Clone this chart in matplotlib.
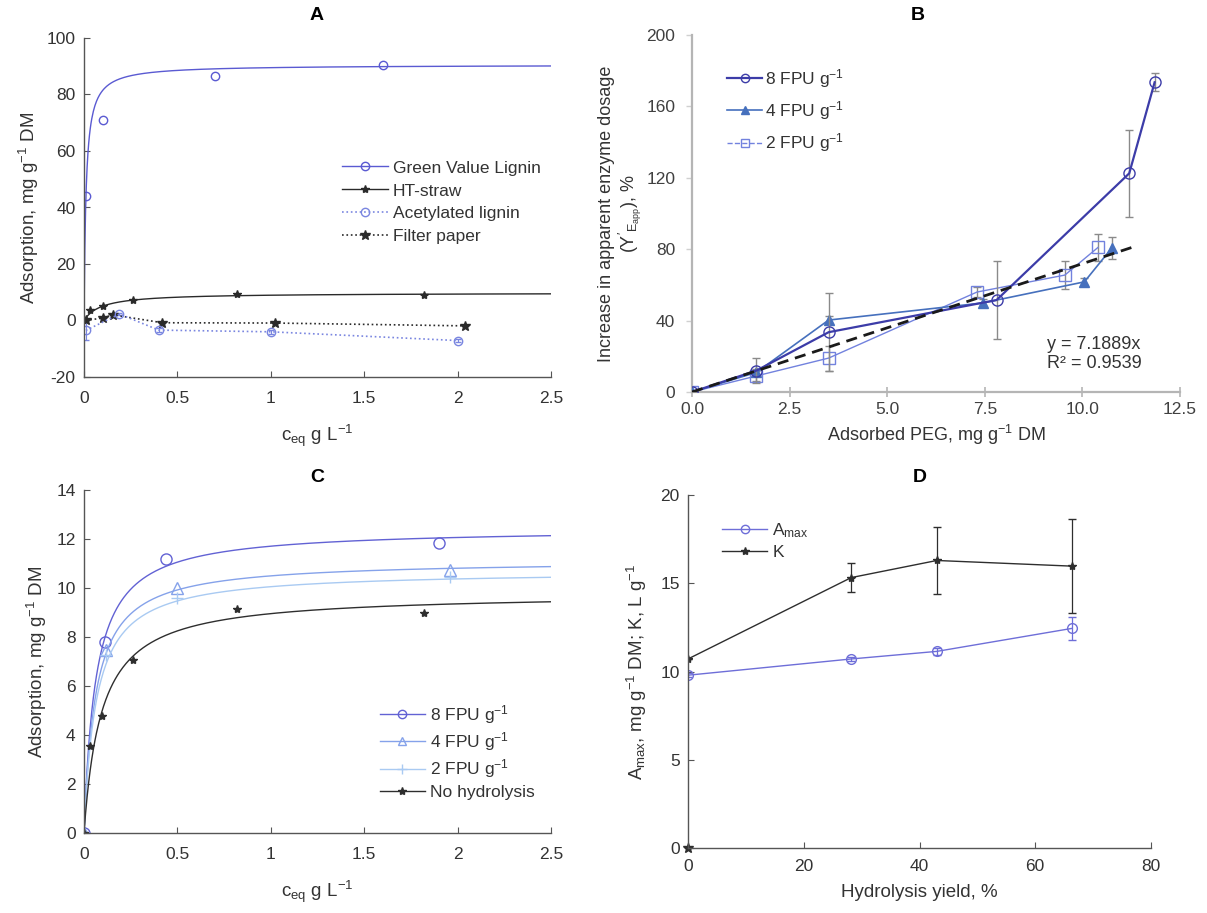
import numpy as np
import matplotlib
matplotlib.use("Agg")
import matplotlib.pyplot as plt

plt.rcParams['font.family'] = ['Liberation Sans', 'DejaVu Sans']
plt.rcParams['mathtext.fontset'] = 'custom'
plt.rcParams['mathtext.rm'] = 'Liberation Sans'
plt.rcParams['mathtext.it'] = 'Liberation Sans:italic'
plt.rcParams['mathtext.default'] = 'regular'
plt.rcParams['axes.unicode_minus'] = False

# ---- Panel A: adsorption isotherms on different substrates
gvl_x = [0.01, 0.1, 0.7, 1.6]
gvl_y = [44, 71, 86.5, 90.5]
gvl_amax, gvl_k = 90.5, 90.0
ht_x = [0, 0.03, 0.1, 0.26, 0.82, 1.82]
ht_y = [0, 3.6, 5.0, 7.2, 9.3, 9.2]
acet_x = [0.01, 0.19, 0.4, 1.0, 2.0]
acet_y = [-3.5, 2.3, -3.4, -4.0, -7.1]
acet_err = [3.5, 0.5, 0.6, 0.8, 0.5]
fp_x = [0.01, 0.1, 0.155, 0.42, 1.02, 2.04]
fp_y = [0, 0.9, 2.0, -0.8, -0.9, -1.9]

# ---- Panel B: apparent enzyme dosage vs adsorbed PEG
b8_x = [0, 1.65, 3.5, 7.8, 11.2, 11.85]
b8_y = [0, 12, 33.5, 51.5, 122.5, 173.5]
b8_err = [0, 7, 22, 22, 24.5, 5]
b4_x = [0, 1.65, 3.5, 7.45, 10.05, 10.75]
b4_y = [0, 11, 40.3, 49.9, 61.7, 80.6]
b4_err = [0, 2, 2, 2, 2, 6]
b2_x = [0, 1.65, 3.5, 7.3, 9.55, 10.4]
b2_y = [0, 9, 19, 56, 65.5, 81]
b2_err = [0, 3, 7, 3, 8, 7.5]
trend_slope = 7.1889
trend_x = [0, 11.35]

# ---- Panel C: isotherms on hydrolysed straw
c8_x = [0, 0.11, 0.44, 1.90]
c8_y = [0, 7.8, 11.18, 11.85]
c4_x = [0, 0.12, 0.50, 1.96]
c4_y = [0, 7.45, 10.02, 10.75]
c2_x = [0, 0.12, 0.50, 1.96]
c2_y = [0, 7.25, 9.6, 10.45]
cn_x = [0, 0.03, 0.096, 0.26, 0.82, 1.82]
cn_y = [0, 3.55, 4.78, 7.05, 9.13, 9.0]

# ---- Panel D: Langmuir parameters vs hydrolysis yield (0, 2, 4, 8 FPU)
hyd_yield = [0, 28.2, 43.0, 66.3]
amax = [9.79, 10.71, 11.14, 12.44]
amax_err = [0.1, 0.1, 0.2, 0.65]
kval = [10.71, 15.32, 16.29, 15.97]
k_err = [0, 0.8, 1.9, 2.65]

W, H = 1207, 913
fig = plt.figure(figsize=(W / 100, H / 100), dpi=100)


def rect(l, t, r, b):
    return [l / W, 1 - b / H, (r - l) / W, (b - t) / H]


def langmuir(c, a, k):
    return a * k * c / (1 + k * c)


def matlab_style(ax, xpad=10, color='#555555'):
    for s in ['top', 'right']:
        ax.spines[s].set_visible(False)
    for s in ['left', 'bottom']:
        ax.spines[s].set_color(color)
        ax.spines[s].set_linewidth(1.0)
    ax.tick_params(direction='in', length=4, width=0.8, color=color,
                   labelsize=12.5, labelcolor='#333333')
    ax.tick_params(axis='y', pad=6)
    ax.tick_params(axis='x', pad=xpad)


cgrid = np.linspace(0, 2.5, 600)
lab_fs = 13.5
txt = '#333333'

# ================= A
axA = fig.add_axes(rect(84, 38, 551, 377))
matlab_style(axA)
blueA = '#5a5ad2'
axA.plot(cgrid, langmuir(cgrid, gvl_amax, gvl_k), color=blueA, lw=1.0)
axA.plot(gvl_x, gvl_y, 'o', mfc='none', mec=blueA, ms=6, mew=1.0)
axA.plot(cgrid, langmuir(cgrid, 9.79, 10.71), color='#2a2a2a', lw=1.0)
axA.plot(ht_x, ht_y, '*', color='#2a2a2a', ms=6)
axA.errorbar(acet_x, acet_y, yerr=acet_err, color='#7a86e0', ls=':', lw=1.2,
             marker='o', mfc='none', ms=6, capsize=2, elinewidth=0.8)
axA.plot(fp_x, fp_y, ls=':', color='#2a2a2a', lw=1.2, marker='*', ms=7)
axA.set_xlim(0, 2.5)
axA.set_ylim(-20, 100)
axA.set_xticks([0, 0.5, 1, 1.5, 2, 2.5])
axA.set_xticklabels(['0', '0.5', '1', '1.5', '2', '2.5'])
axA.set_yticks(range(-20, 101, 20))
axA.set_xlabel(r'c$_{eq}$ g L$^{-1}$', fontsize=lab_fs, color=txt, labelpad=12)
axA.set_ylabel(r'Adsorption, mg g$^{-1}$ DM', fontsize=lab_fs, color=txt, labelpad=4)
hA = [
    axA.plot([], [], color=blueA, lw=1.0, marker='o', mfc='none', ms=6)[0],
    axA.plot([], [], color='#2a2a2a', lw=1.0, marker='*', ms=6)[0],
    axA.plot([], [], color='#7a86e0', ls=':', lw=1.2, marker='o', mfc='none', ms=6)[0],
    axA.plot([], [], color='#2a2a2a', ls=':', lw=1.2, marker='*', ms=7)[0],
]
axA.legend(hA, ['Green Value Lignin', 'HT-straw', 'Acetylated lignin', 'Filter paper'],
           loc='upper left', bbox_to_anchor=(0.52, 0.685), frameon=False,
           fontsize=12.5, handlelength=2.6, handletextpad=0.3, labelspacing=0.45,
           labelcolor=txt)
fig.text(317 / W, 1 - 16 / H, 'A', ha='center', va='center', fontsize=14, fontweight='bold')

# ================= B
axB = fig.add_axes(rect(692, 35, 1180, 392))
for s in ['top', 'right']:
    axB.spines[s].set_visible(False)
for s in ['left', 'bottom']:
    axB.spines[s].set_color('#b5b5b5')
    axB.spines[s].set_linewidth(1.6)
axB.tick_params(axis='x', direction='inout', length=7, color='#b5b5b5', width=1.2,
                labelsize=12.5, labelcolor='#404040', pad=4)
axB.tick_params(axis='y', direction='out', length=4, color='#d0d0d0', width=1.0,
                labelsize=12.5, labelcolor='#404040', pad=8)
c8, c4, c2 = '#3c3ca8', '#4670bd', '#7282de'
axB.errorbar(b2_x, b2_y, yerr=b2_err, color=c2, lw=1.0, marker='s', mfc='none',
             ms=8, mew=1.0, ecolor='#8a8a8a', elinewidth=1.0, capsize=3, zorder=2)
axB.errorbar(b4_x, b4_y, yerr=b4_err, color=c4, lw=1.2, marker='^', ms=7,
             ecolor='#8a8a8a', elinewidth=1.0, capsize=3, zorder=3)
axB.errorbar(b8_x, b8_y, yerr=b8_err, color=c8, lw=1.6, marker='o', mfc='none',
             ms=8, mew=1.0, ecolor='#8a8a8a', elinewidth=1.0, capsize=3, zorder=4)
tx = np.array(trend_x)
axB.plot(tx, trend_slope * tx, ls=(0, (4, 2.5)), color='#1a1a1a', lw=2.0, zorder=5)
axB.set_xlim(0, 12.5)
axB.set_ylim(0, 200)
axB.set_xticks(np.arange(0, 12.6, 2.5))
axB.set_xticklabels(['0.0', '2.5', '5.0', '7.5', '10.0', '12.5'])
axB.set_yticks(range(0, 201, 40))
axB.set_xlabel(r'Adsorbed PEG, mg g$^{-1}$ DM', fontsize=13, color=txt, labelpad=4)
axB.set_ylabel('Increase in apparent enzyme dosage\n' + r"$(Y'_{E_{app}})$, %",
               fontsize=13, color=txt, labelpad=2, linespacing=1.1)
axB.text(0.727, 0.106, 'y = 7.1889x\nR\u00b2 = 0.9539', transform=axB.transAxes,
         fontsize=13, color=txt, ha='left', va='center', linespacing=1.15)
hB = [
    axB.plot([], [], color=c8, lw=1.6, marker='o', mfc='none', ms=6)[0],
    axB.plot([], [], color=c4, lw=1.2, marker='^', ms=6)[0],
    axB.plot([], [], color=c2, lw=1.0, ls='--', marker='s', mfc='none', ms=6)[0],
]
axB.legend(hB, [r'8 FPU g$^{-1}$', r'4 FPU g$^{-1}$', r'2 FPU g$^{-1}$'],
           loc='upper left', bbox_to_anchor=(0.04, 0.955), frameon=False,
           fontsize=12.5, handlelength=2.0, handletextpad=0.2, labelspacing=0.55,
           labelcolor=txt)
fig.text(918 / W, 1 - 16 / H, 'B', ha='center', va='center', fontsize=14, fontweight='bold')

# ================= C
axC = fig.add_axes(rect(84, 490, 551, 833))
matlab_style(axC)
cc8, cc4, cc2, ccn = '#6262d4', '#85a2ea', '#a9caf2', '#2e2e2e'
axC.plot(cgrid, langmuir(cgrid, amax[3], kval[3]), color=cc8, lw=1.0)
axC.plot(c8_x, c8_y, 'o', mfc='none', mec=cc8, ms=8, mew=1.0)
axC.plot(cgrid, langmuir(cgrid, amax[2], kval[2]), color=cc4, lw=1.0)
axC.plot(c4_x, c4_y, '^', mfc='none', mec=cc4, ms=8, mew=1.0)
axC.plot(cgrid, langmuir(cgrid, amax[1], kval[1]), color=cc2, lw=1.0)
axC.plot(c2_x, c2_y, '+', color=cc2, ms=9, mew=1.0)
axC.plot(cgrid, langmuir(cgrid, amax[0], kval[0]), color=ccn, lw=1.0)
axC.plot(cn_x, cn_y, '*', color=ccn, ms=6)
axC.set_xlim(0, 2.5)
axC.set_ylim(0, 14)
axC.set_xticks([0, 0.5, 1, 1.5, 2, 2.5])
axC.set_xticklabels(['0', '0.5', '1', '1.5', '2', '2.5'])
axC.set_yticks(range(0, 15, 2))
axC.set_xlabel(r'c$_{eq}$ g L$^{-1}$', fontsize=lab_fs, color=txt, labelpad=12)
axC.set_ylabel(r'Adsorption, mg g$^{-1}$ DM', fontsize=lab_fs, color=txt, labelpad=5)
hC = [
    axC.plot([], [], color=cc8, lw=1.0, marker='o', mfc='none', ms=6)[0],
    axC.plot([], [], color=cc4, lw=1.0, marker='^', mfc='none', ms=6)[0],
    axC.plot([], [], color=cc2, lw=1.0, marker='+', ms=7)[0],
    axC.plot([], [], color=ccn, lw=1.0, marker='*', ms=6)[0],
]
axC.legend(hC, [r'8 FPU g$^{-1}$', r'4 FPU g$^{-1}$', r'2 FPU g$^{-1}$', 'No hydrolysis'],
           loc='upper left', bbox_to_anchor=(0.6, 0.425), frameon=False,
           fontsize=12.5, handlelength=2.6, handletextpad=0.3, labelspacing=0.25,
           labelcolor=txt)
fig.text(317 / W, 1 - 477 / H, 'C', ha='center', va='center', fontsize=14, fontweight='bold')

# ================= D
axD = fig.add_axes(rect(688, 495, 1151, 848))
matlab_style(axD, xpad=8)
cam, ck = '#6e6ed8', '#2e2e2e'
axD.errorbar(hyd_yield, kval, yerr=k_err, color=ck, lw=1.0, marker='*', ms=6,
             capsize=3, elinewidth=0.9)
axD.errorbar(hyd_yield, amax, yerr=amax_err, color=cam, lw=1.0, marker='o', mfc='none',
             ms=7, capsize=3, elinewidth=0.9)
axD.plot([0], [0], '*', color=ck, ms=7, clip_on=False)
axD.set_xlim(0, 80)
axD.set_ylim(0, 20)
axD.set_xticks(range(0, 81, 20))
axD.set_yticks(range(0, 21, 5))
axD.set_xlabel('Hydrolysis yield, %', fontsize=lab_fs, color=txt, labelpad=7)
axD.set_ylabel(r'A$_{max}$, mg g$^{-1}$ DM; K, L g$^{-1}$', fontsize=lab_fs,
               color=txt, labelpad=8)
hD = [
    axD.plot([], [], color=cam, lw=1.0, marker='o', mfc='none', ms=6)[0],
    axD.plot([], [], color=ck, lw=1.0, marker='*', ms=6)[0],
]
axD.legend(hD, [r'A$_{max}$', 'K'], loc='upper left', bbox_to_anchor=(0.04, 0.97),
           frameon=False, fontsize=12.5, handlelength=2.6, handletextpad=0.3,
           labelspacing=0.3, labelcolor=txt)
fig.text(920 / W, 1 - 477 / H, 'D', ha='center', va='center', fontsize=14, fontweight='bold')

fig.savefig('out.png', dpi=100)
